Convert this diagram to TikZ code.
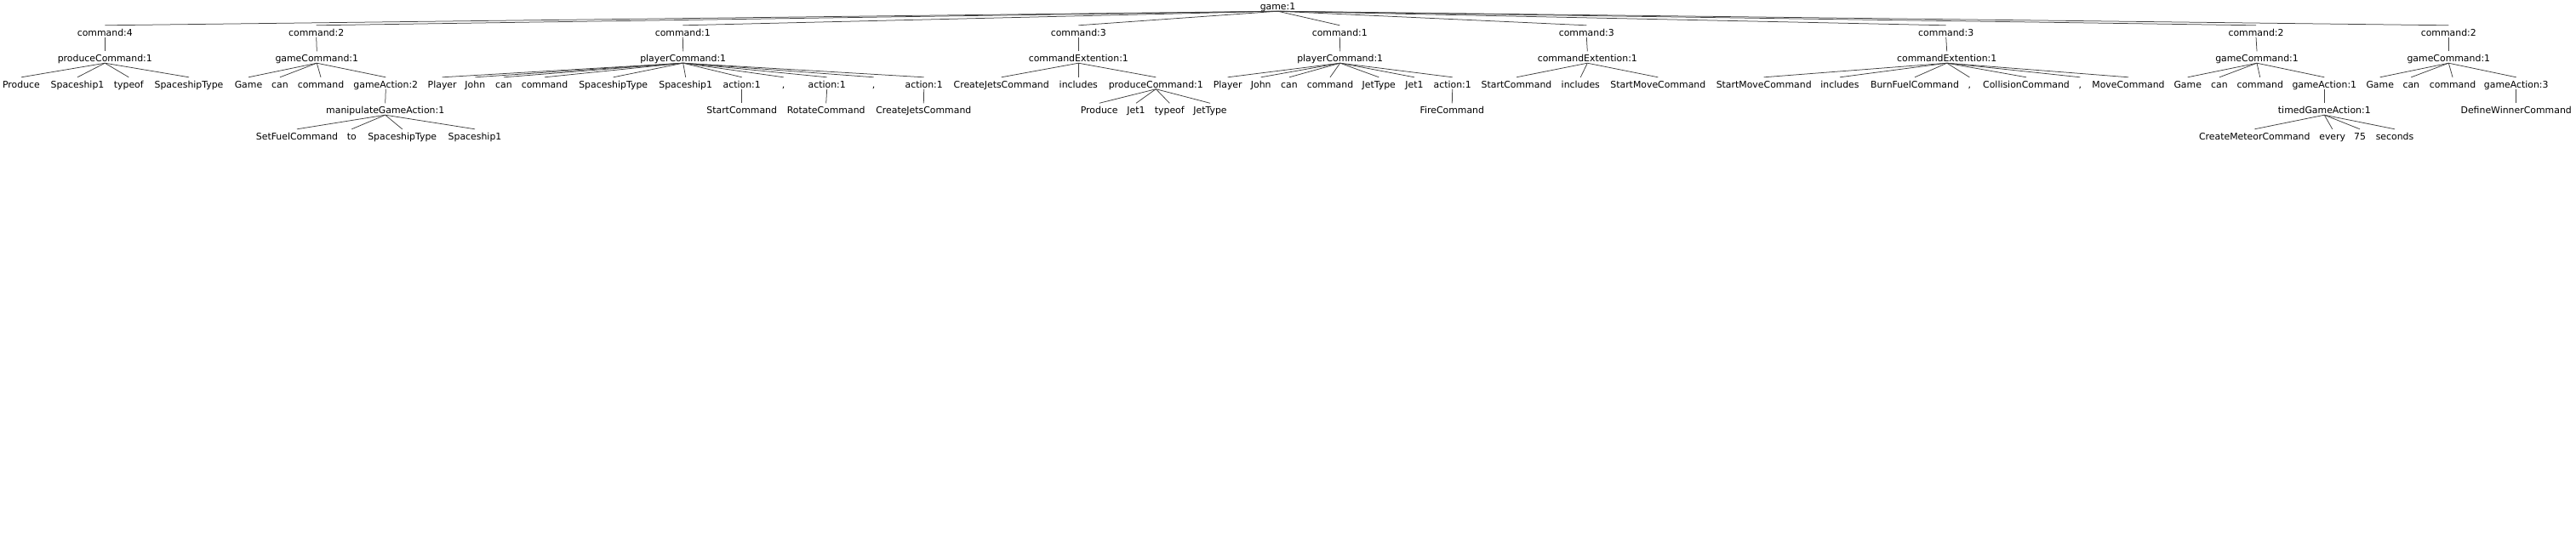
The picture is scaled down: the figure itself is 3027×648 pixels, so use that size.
\documentclass[tikz,border=0pt]{standalone}
\usepackage{fontspec}
\setmainfont{DejaVu Sans}
\begin{document}
\begin{tikzpicture}[x=1pt,y=-1pt,
  lbl/.style={anchor=base,inner sep=0pt,text height=12pt,text depth=1.5pt,font=\fontsize{10.9}{13}\selectfont},
  edge/.style={draw=black!75,line width=0.75pt}]
\fill[white] (0,0) rectangle (3027,648);
\useasboundingbox (0,0) rectangle (3027,648);
% root
\node[lbl] (g) at (1501.5,11.5) {game:1};
% level 1
\node[lbl] (c1) at (123.3,42) {command:4};
\node[lbl] (c2) at (371.7,42) {command:2};
\node[lbl] (c3) at (802.3,42) {command:1};
\node[lbl] (c4) at (1267.3,42) {command:3};
\node[lbl] (c5) at (1574.3,42) {command:1};
\node[lbl] (c6) at (1864.3,42) {command:3};
\node[lbl] (c7) at (2286.7,42) {command:3};
\node[lbl] (c8) at (2651,42) {command:2};
\node[lbl] (c9) at (2877.3,42) {command:2};
% level 2
\node[lbl] (p1) at (123.3,72.5) {produceCommand:1};
\node[lbl] (p2) at (372.3,72.5) {gameCommand:1};
\node[lbl] (p3) at (802.7,72.5) {playerCommand:1};
\node[lbl] (p4) at (1267.3,72.5) {commandExtention:1};
\node[lbl] (p5) at (1574.7,72.5) {playerCommand:1};
\node[lbl] (p6) at (1865.3,72.5) {commandExtention:1};
\node[lbl] (p7) at (2287.7,72.5) {commandExtention:1};
\node[lbl] (p8) at (2652,72.5) {gameCommand:1};
\node[lbl] (p9) at (2877.3,72.5) {gameCommand:1};
% level 3
\node[lbl] (a1) at (25,103) {Produce};
\node[lbl] (a2) at (91,103) {Spaceship1};
\node[lbl] (a3) at (151.3,103) {typeof};
\node[lbl] (a4) at (222,103) {SpaceshipType};
\node[lbl] (b1) at (292,103) {Game};
\node[lbl] (b2) at (329,103) {can};
\node[lbl] (b3) at (377,103) {command};
\node[lbl] (b4) at (453.3,103) {gameAction:2};
\node[lbl] (d1) at (519.7,103) {Player};
\node[lbl] (d2) at (558.3,103) {John};
\node[lbl] (d3) at (592,103) {can};
\node[lbl] (d4) at (640,103) {command};
\node[lbl] (d5) at (720.7,103) {SpaceshipType};
\node[lbl] (d6) at (805.7,103) {Spaceship1};
\node[lbl] (d7) at (871.7,103) {action:1};
\node[lbl] (d8) at (920.7,103) {,};
\node[lbl] (d9) at (971.7,103) {action:1};
\node[lbl] (d10) at (1026.7,103) {,};
\node[lbl] (d11) at (1085.7,103) {action:1};
\node[lbl] (e1) at (1176.7,103) {CreateJetsCommand};
\node[lbl] (e2) at (1267.3,103) {includes};
\node[lbl] (e3) at (1358.3,103) {produceCommand:1};
\node[lbl] (f1) at (1442.7,103) {Player};
\node[lbl] (f2) at (1481.7,103) {John};
\node[lbl] (f3) at (1515,103) {can};
\node[lbl] (f4) at (1563,103) {command};
\node[lbl] (f5) at (1620.3,103) {JetType};
\node[lbl] (f6) at (1662,103) {Jet1};
\node[lbl] (f7) at (1706.7,103) {action:1};
\node[lbl] (h1) at (1782,103) {StartCommand};
\node[lbl] (h2) at (1857.3,103) {includes};
\node[lbl] (h3) at (1948.3,103) {StartMoveCommand};
\node[lbl] (k1) at (2072.7,103) {StartMoveCommand};
\node[lbl] (k2) at (2162,103) {includes};
\node[lbl] (k3) at (2250,103) {BurnFuelCommand};
\node[lbl] (k4) at (2314.3,103) {,};
\node[lbl] (k5) at (2381,103) {CollisionCommand};
\node[lbl] (k6) at (2444.3,103) {,};
\node[lbl] (k7) at (2501,103) {MoveCommand};
\node[lbl] (m1) at (2570.7,103) {Game};
\node[lbl] (m2) at (2608,103) {can};
\node[lbl] (m3) at (2655.7,103) {command};
\node[lbl] (m4) at (2731.3,103) {gameAction:1};
\node[lbl] (q1) at (2796.7,103) {Game};
\node[lbl] (q2) at (2833.3,103) {can};
\node[lbl] (q3) at (2882,103) {command};
\node[lbl] (q4) at (2956.7,103) {gameAction:3};
% level 4
\node[lbl] (b4x) at (452.7,133.5) {manipulateGameAction:1};
\node[lbl] (d7x) at (871.7,133.5) {StartCommand};
\node[lbl] (d9x) at (970.7,133.5) {RotateCommand};
\node[lbl] (d11x) at (1085.3,133.5) {CreateJetsCommand};
\node[lbl] (e3a) at (1291.7,133.5) {Produce};
\node[lbl] (e3b) at (1335,133.5) {Jet1};
\node[lbl] (e3c) at (1374.3,133.5) {typeof};
\node[lbl] (e3d) at (1422,133.5) {JetType};
\node[lbl] (f7x) at (1706.3,133.5) {FireCommand};
\node[lbl] (m4x) at (2731.3,133.5) {timedGameAction:1};
\node[lbl] (q4x) at (2956.7,133.5) {DefineWinnerCommand};
% level 5
\node[lbl] (s1) at (349,164) {SetFuelCommand};
\node[lbl] (s2) at (413.3,164) {to};
\node[lbl] (s3) at (472.7,164) {SpaceshipType};
\node[lbl] (s4) at (558,164) {Spaceship1};
\node[lbl] (t1) at (2649.3,164) {CreateMeteorCommand};
\node[lbl] (t2) at (2740.7,164) {every};
\node[lbl] (t3) at (2773,164) {75};
\node[lbl] (t4) at (2814,164) {seconds};
% edges
\foreach \c in {c1,c2,c3,c4,c5,c6,c7,c8,c9} \draw[edge] (g.south) -- (\c.north);
\foreach \i in {1,...,9} \draw[edge] (c\i.south) -- (p\i.north);
\foreach \c in {a1,a2,a3,a4} \draw[edge] (p1.south) -- (\c.north);
\foreach \c in {b1,b2,b3,b4} \draw[edge] (p2.south) -- (\c.north);
\foreach \c in {d1,d2,d3,d4,d5,d6,d7,d8,d9,d10,d11} \draw[edge] (p3.south) -- (\c.north);
\foreach \c in {e1,e2,e3} \draw[edge] (p4.south) -- (\c.north);
\foreach \c in {f1,f2,f3,f4,f5,f6,f7} \draw[edge] (p5.south) -- (\c.north);
\foreach \c in {h1,h2,h3} \draw[edge] (p6.south) -- (\c.north);
\foreach \c in {k1,k2,k3,k4,k5,k6,k7} \draw[edge] (p7.south) -- (\c.north);
\foreach \c in {m1,m2,m3,m4} \draw[edge] (p8.south) -- (\c.north);
\foreach \c in {q1,q2,q3,q4} \draw[edge] (p9.south) -- (\c.north);
\draw[edge] (b4.south) -- (b4x.north);
\draw[edge] (d7.south) -- (d7x.north);
\draw[edge] (d9.south) -- (d9x.north);
\draw[edge] (d11.south) -- (d11x.north);
\foreach \c in {e3a,e3b,e3c,e3d} \draw[edge] (e3.south) -- (\c.north);
\draw[edge] (f7.south) -- (f7x.north);
\draw[edge] (m4.south) -- (m4x.north);
\draw[edge] (q4.south) -- (q4x.north);
\foreach \c in {s1,s2,s3,s4} \draw[edge] (b4x.south) -- (\c.north);
\foreach \c in {t1,t2,t3,t4} \draw[edge] (m4x.south) -- (\c.north);
\end{tikzpicture}
\end{document}
